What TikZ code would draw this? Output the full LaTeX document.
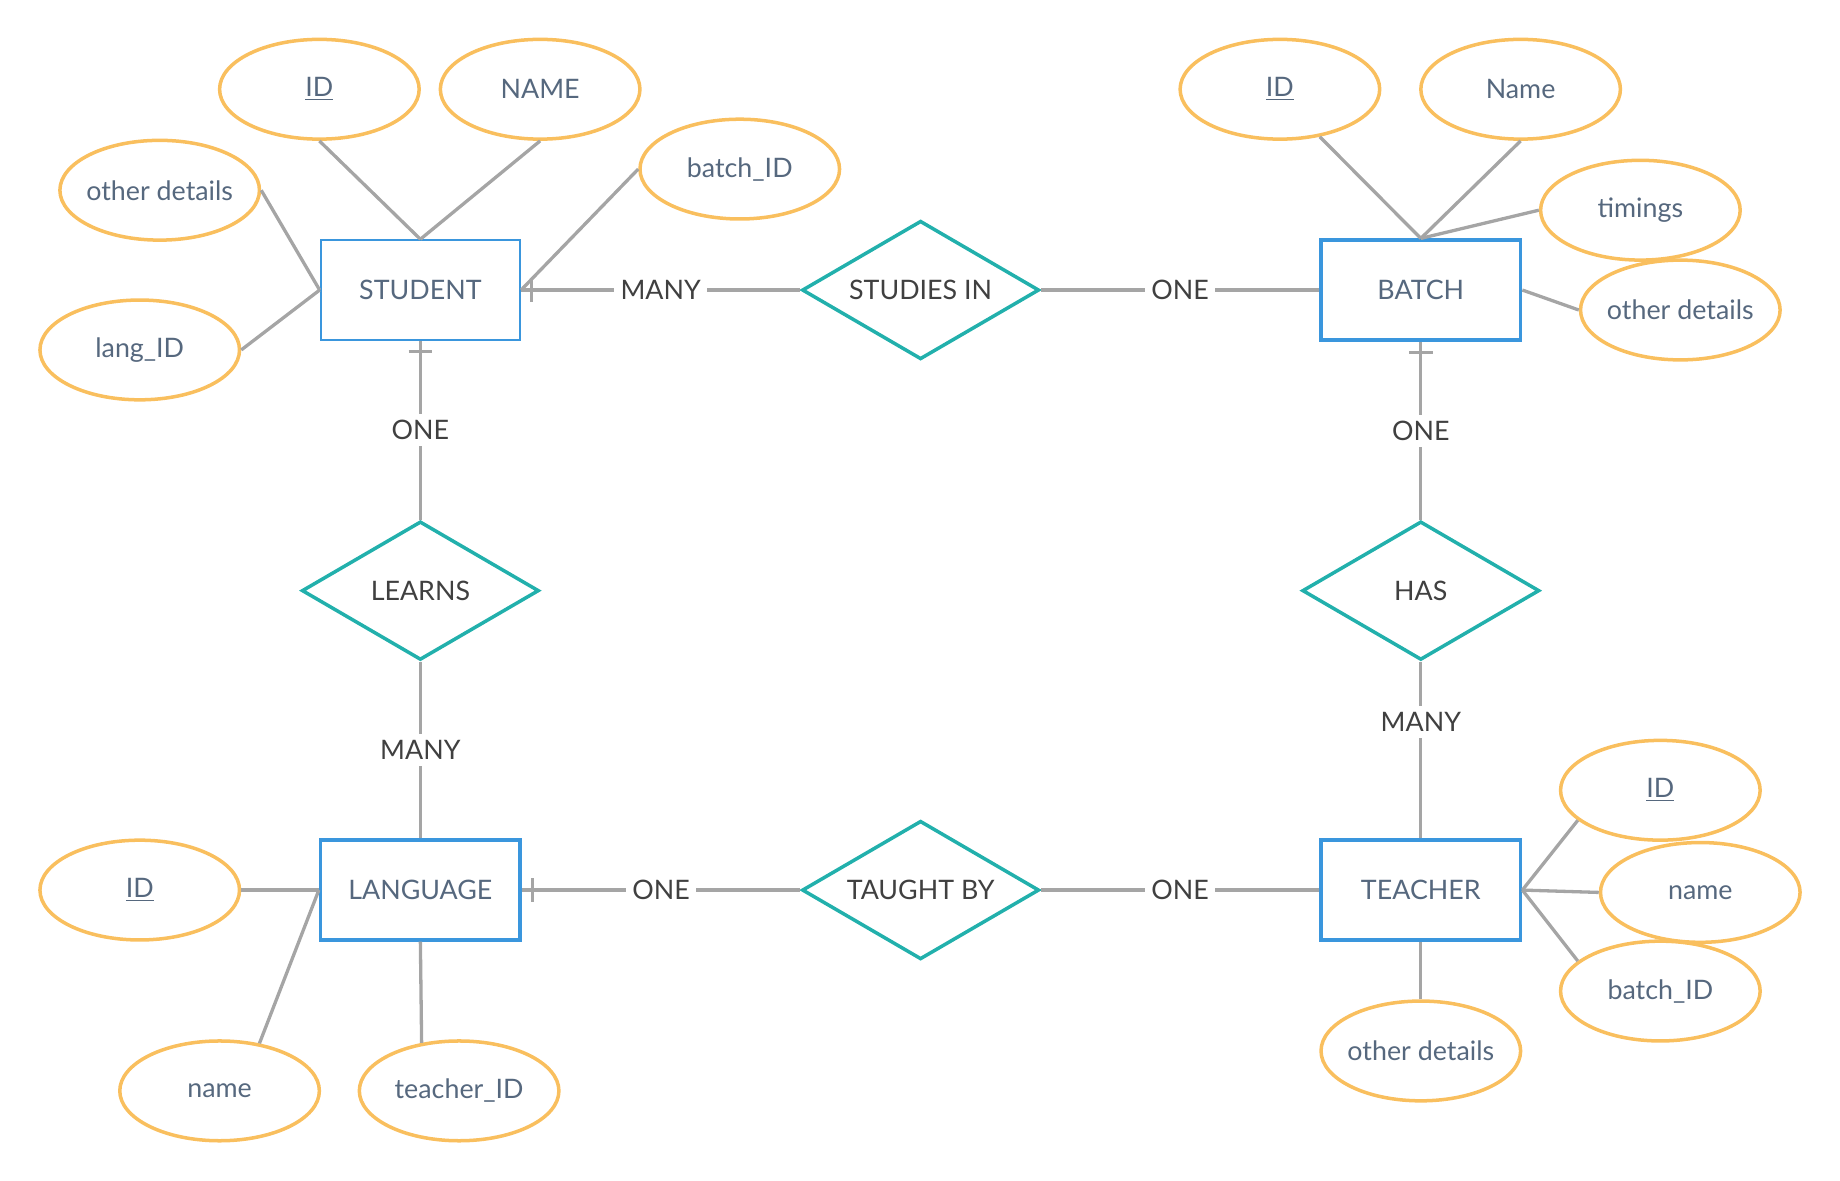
\documentclass[tikz,border=0pt]{standalone}
\usepackage{fontspec}
\setmainfont{Lato}
\usetikzlibrary{shapes.geometric,decorations.markings}
\definecolor{attrorange}{HTML}{F9BF5E}
\definecolor{entblue}{HTML}{3A96DD}
\definecolor{relteal}{HTML}{22B0AC}
\definecolor{linkgray}{HTML}{A5A5A5}
\definecolor{nametext}{HTML}{56687E}
\definecolor{cardtext}{HTML}{404040}

\begin{document}
\begin{tikzpicture}[x=0.02cm,y=-0.02cm,
	every node/.style={font=\fontsize{13}{15}\selectfont},
	entity/.style={draw=entblue,line width=1.7pt,minimum width=3.4cm,minimum height=1.7cm,text=nametext},
	attr/.style={ellipse,draw=attrorange,line width=1.7pt,minimum width=3.4cm,minimum height=1.7cm,inner xsep=-0.3cm,inner ysep=0pt,text=nametext},
	rel/.style={diamond,draw=relteal,line width=1.7pt,shape aspect=1.7,minimum width=4.04cm,minimum height=2.36cm,inner sep=0pt,text=cardtext},
	link/.style={draw=linkgray,line width=1.6pt},
	card/.style={fill=white,text=cardtext,inner sep=3pt},
	onebar/.style={postaction={decorate,decoration={markings,mark=at position 0.18cm with {\draw[linkgray,line width=1.6pt] (0,-0.2cm) -- (0,0.2cm);}}}}]
	
	\useasboundingbox (0,0) rectangle (1567,1005);
	
	% entities
	\node[entity,line width=0.9pt] (stu) at (358,247) {STUDENT};
	\node[entity] (bat) at (1210,247) {BATCH};
	\node[entity] (lan) at (358,758) {LANGUAGE};
	\node[entity] (tea) at (1210,758) {TEACHER};
	
	% relationships
	\node[rel] (stdin) at (784,247) {STUDIES IN};
	\node[rel] (lrn) at (358,503) {LEARNS};
	\node[rel] (has) at (1210,503) {HAS};
	\node[rel] (tgt) at (784,758) {TAUGHT BY};
	
	% attributes
	\node[attr] (sid) at (272,76) {\underline{ID}};
	\node[attr] (snm) at (460,76) {NAME};
	\node[attr] (sbid) at (630,144) {batch\_ID};
	\node[attr] (soth) at (136,162) {other details};
	\node[attr] (slid) at (119,298) {lang\_ID};
	
	\node[attr] (bid) at (1090,76) {\underline{ID}};
	\node[attr] (bnm) at (1295,76) {Name};
	\node[attr] (btim) at (1397,179) {timings};
	\node[attr] (both) at (1431,264) {other details};
	
	\node[attr] (tid) at (1414,673) {\underline{ID}};
	\node[attr] (tnm) at (1448,760) {name};
	\node[attr] (tbid) at (1414,844) {batch\_ID};
	\node[attr] (toth) at (1210,895) {other details};
	
	\node[attr] (lid) at (119,758) {\underline{ID}};
	\node[attr] (lnm) at (187,929) {name};
	\node[attr] (ltid) at (391,929) {teacher\_ID};
	
	\draw[link] (sid.south) -- (stu.north);
	\draw[link] (snm.south) -- (stu.north);
	\draw[link] (sbid.west) -- (stu.east);
	\draw[link] (soth.east) -- (stu.west);
	\draw[link] (slid.east) -- (stu.west);
	
	\draw[link] (bid.-50) -- (bat.north);
	\draw[link] (bnm.south) -- (bat.north);
	\draw[link] (btim.west) -- (bat.north);
	\draw[link] (both.west) -- (bat.east);
	
	\draw[link] (tid.200) -- (tea.east);
	\draw[link] (tnm.west) -- (tea.east);
	\draw[link] (tbid.160) -- (tea.east);
	\draw[link] (toth.north) -- (tea.south);
	
	\draw[link] (lid.east) -- (lan.west);
	\draw[link] (lnm.50) -- (lan.west);
	\draw[link] (ltid.128) -- (lan.south);
	
	% cardinalities
	\draw[link,onebar] (stu.east) -- node[card] {MANY} (stdin.west);
	\draw[link] (stdin.east) -- node[card] {ONE} (bat.west);
	\draw[link,onebar] (stu.south) -- node[card] {ONE} (lrn.north);
	\draw[link] (lrn.south) -- node[card] {MANY} (lan.north);
	\draw[link,onebar] (bat.south) -- node[card] {ONE} (has.north);
	\draw[link] (has.south) -- node[card,pos=0.34] {MANY} (tea.north);
	\draw[link,onebar] (lan.east) -- node[card] {ONE} (tgt.west);
	\draw[link] (tgt.east) -- node[card] {ONE} (tea.west);
	
\end{tikzpicture}
\end{document}
